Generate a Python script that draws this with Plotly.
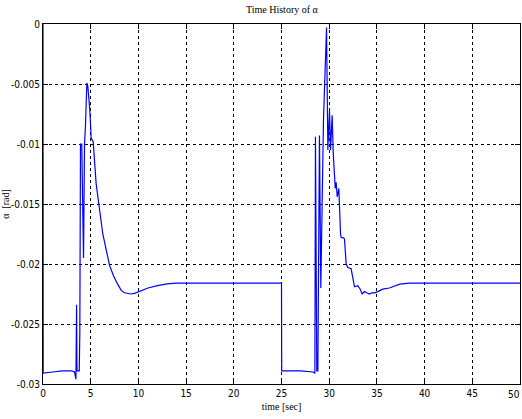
import plotly.graph_objects as go

# time [sec]
t = [0.0, 0.02, 1.0, 2.0, 3.0, 3.3, 3.45, 3.52, 3.56, 3.8, 3.86, 3.93, 4.06, 4.25, 4.35, 4.45, 4.6, 4.7, 4.91,
     5.05, 5.26, 5.57, 5.85, 6.27, 6.97, 7.4, 7.84, 8.2, 8.54, 9.2, 9.6, 10.1, 11.0, 12.0, 13.0, 14.0, 25.0,
     25.02, 27.0, 28.3, 28.5, 28.56, 28.7, 28.81, 28.98, 29.12, 29.4, 29.72, 29.86, 30.03, 30.14, 30.31, 30.42,
     30.63, 30.73, 30.84, 31.01, 31.19, 31.26, 31.43, 31.6, 31.78, 31.95, 32.3, 32.48, 32.65, 33.0, 33.25,
     33.46, 33.7, 33.94, 34.22, 34.47, 34.75, 35.1, 35.6, 36.3, 37.4, 38.4, 50.0]
# alpha [rad]
alpha = [0.0, -0.0291, -0.0290, -0.0289, -0.0289, -0.0290, -0.0296, -0.0234, -0.0289, -0.0289, -0.0257, -0.0100,
         -0.0100, -0.0195, -0.0100, -0.0085, -0.0049, -0.0052, -0.0072,
         -0.0095, -0.0098, -0.0133, -0.0150, -0.0175, -0.0201, -0.0210, -0.0217, -0.0222, -0.0224, -0.0225,
         -0.02245, -0.0223, -0.0220, -0.0218, -0.02165, -0.0216, -0.0216,
         -0.0289, -0.0289, -0.0290, -0.0291, -0.0094, -0.0289, -0.0289, -0.0093, -0.0220, -0.0080, -0.0003,
         -0.0105, -0.0072, -0.0105, -0.0076, -0.0107,
         -0.0137, -0.0132, -0.0144, -0.0137, -0.0175, -0.0178, -0.0178, -0.0179, -0.0200, -0.0203, -0.0204,
         -0.0211, -0.0219, -0.0218, -0.0221,
         -0.0225, -0.0223, -0.0224, -0.0225, -0.0224, -0.0224, -0.0223, -0.0221, -0.0220, -0.02168, -0.0216,
         -0.0216]

x_ticks = [0, 5, 10, 15, 20, 25, 30, 35, 40, 45]
x_last_tick = 50
y_ticks = [0, -0.005, -0.01, -0.015, -0.02, -0.025, -0.03]
y_tick_text = ["0", "-0.005", "-0.01", "-0.015", "-0.02", "-0.025", "-0.03"]

tick_font = dict(family="DejaVu Sans Condensed, Liberation Sans Narrow, Liberation Sans", size=10, color="#000")
serif = dict(family="Liberation Serif, Times New Roman, serif", size=10, color="#000")

fig = go.Figure()
fig.add_trace(go.Scatter(x=t, y=alpha, mode="lines", line=dict(color="#0000FF", width=1.2), showlegend=False))

grid = dict(showgrid=True, gridcolor="#000", gridwidth=1, griddash="3px,3px",
            showline=True, linecolor="#000", linewidth=1, mirror="ticks",
            ticks="inside", ticklen=5, tickcolor="#000", zeroline=False, tickfont=tick_font,
            automargin=False)

fig.update_xaxes(range=[0, 50], tickvals=x_ticks + [x_last_tick],
                 ticktext=[str(v) for v in x_ticks] + [""],
                 title=dict(text="time [sec]", font=serif, standoff=4), **grid)
fig.update_yaxes(range=[-0.03, 0], tickvals=y_ticks, ticktext=y_tick_text,
                 title=dict(text="α  [rad]", font=serif, standoff=2), **grid)

# last x tick label sits at the right edge; keep it fully inside the window
fig.add_annotation(x=x_last_tick, y=0, xref="x", yref="paper", yanchor="top", xanchor="right",
                   yshift=-3, xshift=2, text=str(x_last_tick), showarrow=False, font=tick_font)

fig.update_layout(
    width=522, height=419,
    margin=dict(l=43, r=2, t=24, b=35),
    paper_bgcolor="white", plot_bgcolor="white",
    title=dict(text="Time History of α", font=serif, x=0.54, xanchor="center", y=0.985, yanchor="top"),
)

fig.write_html("out.html")
